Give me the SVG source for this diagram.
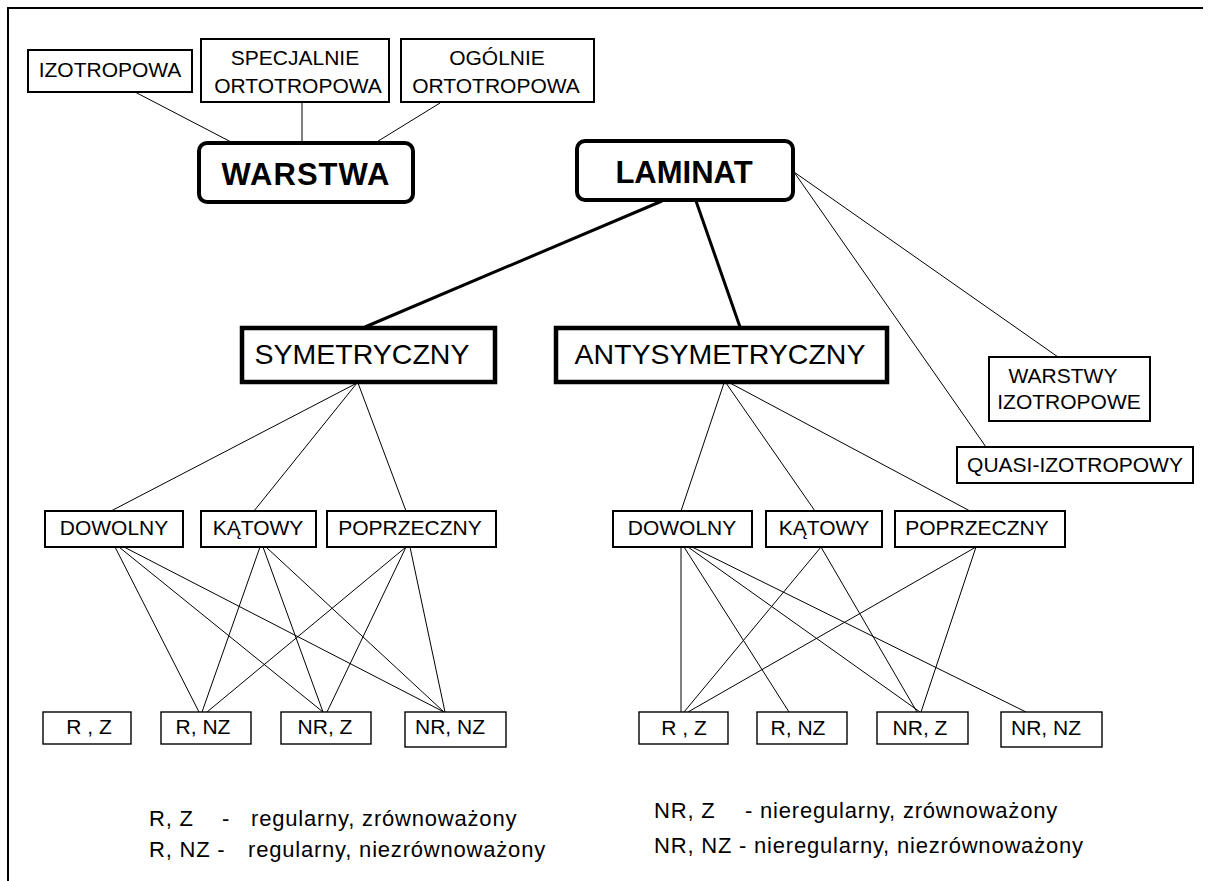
<svg xmlns="http://www.w3.org/2000/svg" width="1211" height="881" viewBox="0 0 1211 881">
<style>
text{font-family:"Liberation Sans",Arial,sans-serif;fill:#000}
.t{font-size:21px;text-anchor:middle}
.big{font-size:28.5px;text-anchor:middle}
.bold{font-size:31px;font-weight:bold;text-anchor:middle}
.leg{font-size:22px;letter-spacing:0.8px}
.b2{fill:#fff;stroke:#000;stroke-width:2}
.b1{fill:#fff;stroke:#000;stroke-width:1.4}
.b4{fill:#fff;stroke:#000;stroke-width:4}
.bs{fill:#fff;stroke:#000;stroke-width:4.5}
.c{stroke:#000;stroke-width:1;fill:none}
.ck{stroke:#000;stroke-width:3;fill:none}
.frame{stroke:#000;stroke-width:2;fill:none}
</style>
<path class="frame" d="M8,881 V8 H1203"/>
<g id="connectors">
<line class="c" x1="135" y1="92" x2="233" y2="143"/>
<line class="c" x1="302" y1="102" x2="302" y2="143"/>
<line class="c" x1="440" y1="103" x2="375" y2="143"/>
<line class="ck" x1="662" y1="201" x2="365" y2="327"/>
<line class="ck" x1="696" y1="201" x2="740" y2="327"/>
<line class="c" x1="794" y1="172" x2="1058" y2="357"/>
<line class="c" x1="794" y1="172" x2="986" y2="447"/>
<line class="c" x1="357" y1="383" x2="111" y2="511"/>
<line class="c" x1="357" y1="383" x2="254" y2="511"/>
<line class="c" x1="358" y1="383" x2="406" y2="511"/>
<line class="c" x1="724" y1="383" x2="681" y2="511"/>
<line class="c" x1="726" y1="383" x2="815" y2="511"/>
<line class="c" x1="730" y1="383" x2="970" y2="511"/>
<line class="c" x1="115" y1="547" x2="199" y2="712"/>
<line class="c" x1="119" y1="547" x2="323" y2="712"/>
<line class="c" x1="124" y1="547" x2="444" y2="712"/>
<line class="c" x1="260" y1="547" x2="202" y2="712"/>
<line class="c" x1="263" y1="547" x2="323" y2="712"/>
<line class="c" x1="266" y1="547" x2="444" y2="712"/>
<line class="c" x1="406" y1="547" x2="207" y2="712"/>
<line class="c" x1="406" y1="547" x2="327" y2="712"/>
<line class="c" x1="410" y1="547" x2="445" y2="712"/>
<line class="c" x1="681" y1="547" x2="681" y2="712"/>
<line class="c" x1="684" y1="547" x2="789" y2="712"/>
<line class="c" x1="688" y1="547" x2="920" y2="712"/>
<line class="c" x1="692" y1="547" x2="1026" y2="712"/>
<line class="c" x1="821" y1="547" x2="684" y2="712"/>
<line class="c" x1="821" y1="547" x2="917" y2="712"/>
<line class="c" x1="976" y1="547" x2="688" y2="712"/>
<line class="c" x1="976" y1="547" x2="921" y2="712"/>
</g>
<g id="izotropowa"><rect class="b2" x="28" y="50" width="164" height="42"/><text class="t" x="110" y="77">IZOTROPOWA</text></g>
<g id="specjalnie"><rect class="b2" x="201" y="39" width="188" height="63"/><text class="t" x="295" y="65">SPECJALNIE</text><text class="t" x="298" y="93">ORTOTROPOWA</text></g>
<g id="ogolnie"><rect class="b2" x="401" y="39" width="193" height="63"/><text class="t" x="497" y="65">OGÓLNIE</text><text class="t" x="496" y="93">ORTOTROPOWA</text></g>
<g id="warstwa"><rect class="b4" x="199" y="143" width="214" height="59" rx="8"/><text class="bold" x="306" y="185" letter-spacing="1">WARSTWA</text></g>
<g id="laminat"><rect class="b4" x="577" y="141" width="216" height="59" rx="8"/><text class="bold" x="684" y="183">LAMINAT</text></g>
<g id="symetryczny"><rect class="bs" x="242" y="328" width="253" height="54"/><text class="big" x="362" y="364">SYMETRYCZNY</text></g>
<g id="antysymetryczny"><rect class="bs" x="556" y="328" width="331" height="54"/><text class="big" x="720" y="364">ANTYSYMETRYCZNY</text></g>
<g id="warstwy-izotropowe"><rect class="b2" x="989" y="357" width="161" height="64"/><text class="t" x="1063" y="383">WARSTWY</text><text class="t" x="1069" y="409">IZOTROPOWE</text></g>
<g id="quasi"><rect class="b2" x="957" y="447" width="236" height="36"/><text class="t" x="1075" y="472">QUASI-IZOTROPOWY</text></g>
<g id="s-dowolny"><rect class="b2" x="45" y="511" width="138" height="36"/><text class="t" x="114" y="535">DOWOLNY</text></g>
<g id="s-katowy"><rect class="b2" x="201" y="511" width="115" height="36"/><text class="t" x="258" y="535">KĄTOWY</text></g>
<g id="s-poprzeczny"><rect class="b2" x="327" y="511" width="169" height="36"/><text class="t" x="410" y="535">POPRZECZNY</text></g>
<g id="a-dowolny"><rect class="b2" x="613" y="511" width="139" height="36"/><text class="t" x="682" y="535">DOWOLNY</text></g>
<g id="a-katowy"><rect class="b2" x="766" y="511" width="116" height="36"/><text class="t" x="824" y="535">KĄTOWY</text></g>
<g id="a-poprzeczny"><rect class="b2" x="895" y="511" width="170" height="36"/><text class="t" x="977" y="535">POPRZECZNY</text></g>
<g id="s-rz"><rect class="b1" x="43" y="712" width="88" height="32"/><text class="t" x="89" y="734">R , Z</text></g>
<g id="s-rnz"><rect class="b1" x="161" y="712" width="90" height="32"/><text class="t" x="203" y="734">R, NZ</text></g>
<g id="s-nrz"><rect class="b1" x="281" y="712" width="90" height="32"/><text class="t" x="325" y="734">NR, Z</text></g>
<g id="s-nrnz"><rect class="b1" x="405" y="712" width="101" height="35"/><text class="t" x="450" y="734">NR, NZ</text></g>
<g id="a-rz"><rect class="b1" x="639" y="712" width="89" height="32"/><text class="t" x="684" y="735">R , Z</text></g>
<g id="a-rnz"><rect class="b1" x="757" y="712" width="90" height="32"/><text class="t" x="798" y="735">R, NZ</text></g>
<g id="a-nrz"><rect class="b1" x="877" y="712" width="91" height="32"/><text class="t" x="920" y="735">NR, Z</text></g>
<g id="a-nrnz"><rect class="b1" x="1001" y="712" width="101" height="35"/><text class="t" x="1046" y="735">NR, NZ</text></g>
<g id="legend">
<text class="leg" y="826"><tspan x="149">R, Z</tspan><tspan x="222">-</tspan><tspan x="251">regularny, zrównoważony</tspan></text>
<text class="leg" y="857"><tspan x="149">R, NZ -</tspan><tspan x="248">regularny, niezrównoważony</tspan></text>
<text class="leg" y="818"><tspan x="654">NR, Z</tspan><tspan x="745">- nieregularny, zrównoważony</tspan></text>
<text class="leg" y="853"><tspan x="654">NR, NZ - nieregularny, niezrównoważony</tspan></text>
</g>
</svg>
